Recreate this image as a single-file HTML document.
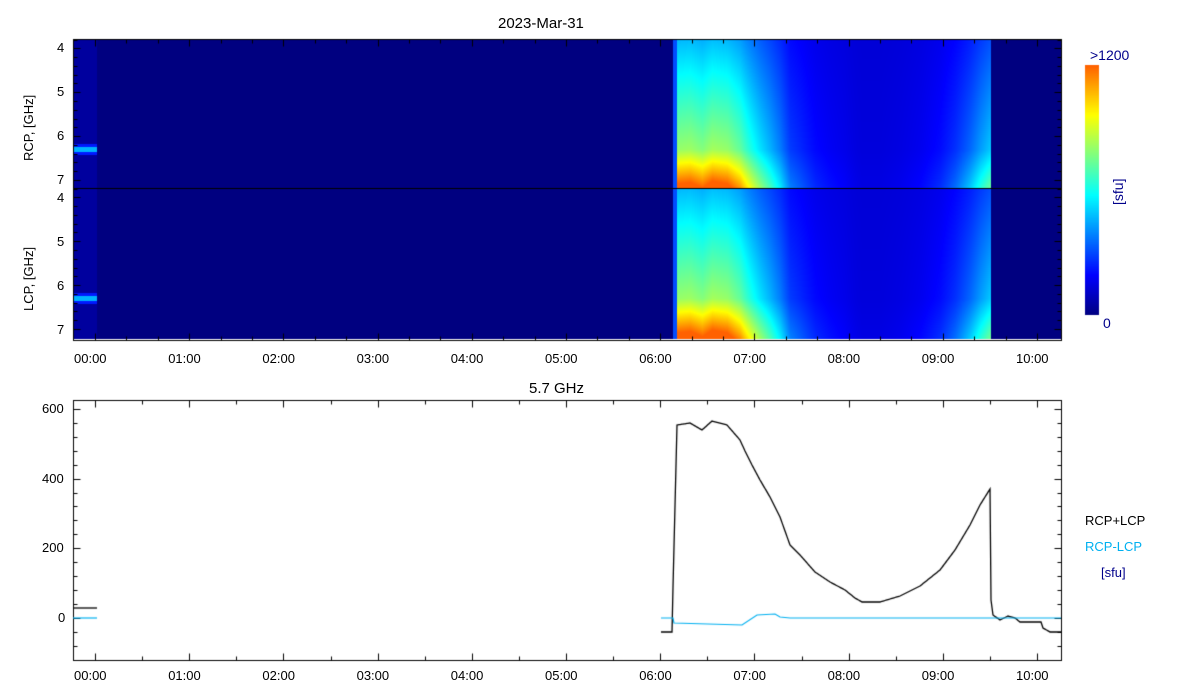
<!DOCTYPE html>
<html><head><meta charset="utf-8"><style>
body{margin:0;background:#fff;width:1200px;height:700px;overflow:hidden;position:relative;font-family:"Liberation Sans",sans-serif}
canvas{position:absolute;left:0;top:0}
.t{position:absolute;font-size:13px;color:#000;white-space:nowrap;line-height:1}
</style></head><body>
<canvas id="c" width="1200" height="700"></canvas>
<div class="t" style="left:498px;top:16px;font-size:15px">2023-Mar-31</div>
<div class="t" style="left:529px;top:381px;font-size:15px">5.7 GHz</div>
<div class="t" style="left:57px;top:41px">4</div>
<div class="t" style="left:57px;top:85px">5</div>
<div class="t" style="left:57px;top:129px">6</div>
<div class="t" style="left:57px;top:173px">7</div>
<div class="t" style="left:57px;top:191px">4</div>
<div class="t" style="left:57px;top:235px">5</div>
<div class="t" style="left:57px;top:279px">6</div>
<div class="t" style="left:57px;top:323px">7</div>
<div class="t" style="left:22px;top:161px;transform:rotate(-90deg);transform-origin:0 0">RCP, [GHz]</div>
<div class="t" style="left:22px;top:311px;transform:rotate(-90deg);transform-origin:0 0">LCP, [GHz]</div>
<div class="t" style="left:42px;top:402px">600</div>
<div class="t" style="left:42px;top:472px">400</div>
<div class="t" style="left:42px;top:541px">200</div>
<div class="t" style="left:58px;top:611px">0</div>
<div class="t" style="left:1090px;top:48px;color:#00008b;font-size:14px">&gt;1200</div>
<div class="t" style="left:1103px;top:316px;color:#00008b;font-size:14px">0</div>
<div class="t" style="left:1111px;top:205px;color:#00008b;transform:rotate(-90deg);transform-origin:0 0;font-size:14px">[sfu]</div>
<div class="t" style="left:1085px;top:514px">RCP+LCP</div>
<div class="t" style="left:1085px;top:540px;color:#00b0f0">RCP-LCP</div>
<div class="t" style="left:1101px;top:566px;color:#00008b">[sfu]</div>
<div id="xl"></div>
<script>
var hrs=["00:00","01:00","02:00","03:00","04:00","05:00","06:00","07:00","08:00","09:00","10:00"];
var h='';
for(var i=0;i<11;i++){var x=95+i*94.2;
h+='<div class="t" style="left:'+(x-21)+'px;top:352px">'+hrs[i]+'</div>';
h+='<div class="t" style="left:'+(x-21)+'px;top:669px">'+hrs[i]+'</div>';}
document.getElementById('xl').innerHTML=h;
var c=document.getElementById('c').getContext('2d');
function cl(v){return v<0?0:v>1?1:v}
function jet(t){return [cl(1.5-Math.abs(4*t-3)),cl(1.5-Math.abs(4*t-2)),cl(1.5-Math.abs(4*t-1))].map(function(v){return Math.round(v*255)})}
var B=[[661,632],[672,632],[673,587],[677,425],[690,423],[702,430],[712,421],[727,425],[740,440],[745,451],[752,465],[760,480],[770,497],[780,517],[790,545],[800,555],[815,572],[830,582],[845,590],[855,598],[862,602],[880,602],[900,596],[920,586],[940,570],[955,550],[970,525],[980,505],[990,489],[991,600],[993,615],[1000,620],[1008,616],[1015,618],[1020,622],[1041,622],[1043,628],[1050,632],[1061,632]];
function by(x){for(var i=0;i<B.length-1;i++){if(x>=B[i][0]&&x<=B[i+1][0]){var f=(x-B[i][0])/(B[i+1][0]-B[i][0]||1);return B[i][1]+f*(B[i+1][1]-B[i][1]);}}return 618}
function spec(y0,py7){
 var img=c.createImageData(988,150);
 for(var x=0;x<988;x++){var X=73+x;
  for(var y=0;y<150;y++){var f=4+((y0+y)-py7+131.7)/43.9;var t=0;
   if(X>=677&&X<=990){var cc=Math.max(0,(618-by(X))/197);cc=Math.pow(cc,1.5);
     var k=0.25+0.09*(f-4)+0.25*Math.max(0,f-6.3);
     t=0.08+cc*k;}
   else if(X>=673&&X<677)t=0.2;
   else if(X<97){t=0.03;if(Math.abs(f-6.3)<0.06)t=0.3;else if(Math.abs(f-6.3)<0.13)t=0.15}
   var col=jet(Math.min(t,0.78));var p=(y*988+x)*4;img.data[p]=col[0];img.data[p+1]=col[1];img.data[p+2]=col[2];img.data[p+3]=255;}}
 c.putImageData(img,73,y0);}
spec(39,180);spec(189,329);
c.fillStyle='#000';c.fillRect(73,188,988,1);
c.strokeStyle='#000';c.lineWidth=1;
function box(x0,y0,x1,y1){c.strokeRect(x0+.5,y0+.5,x1-x0,y1-y0)}
box(73,39,1061,340);box(73,400,1061,660);
c.beginPath();
function tk(x,y,dx,dy){c.moveTo(x+.5,y+.5);c.lineTo(x+dx+.5,y+dy+.5)}
for(var m=-20;m<=640;m+=20){var x=Math.round(95+m*94.2/60);if(x<73||x>1061)continue;var L=(m%60==0)?7:4;
 tk(x,340,0,-L);tk(x,39,0,L);}
for(var m=-30;m<=640;m+=30){var x=Math.round(95+m*94.2/60);if(x<73||x>1061)continue;var L=(m%60==0)?7:4;
 tk(x,660,0,-L);tk(x,400,0,L);}
[[180,39],[329,189]].forEach(function(p){for(var f=3.8;f<=7.2;f+=0.2){var y=Math.round(p[0]-(7-f)*43.9);if(y<p[1]||y>p[1]+150)continue;var L=(Math.abs(f-Math.round(f))<.01)?7:4;tk(73,y,L,0);tk(1061,y,-L,0);}});
for(var v=-120;v<=640;v+=40){var y=Math.round(618-v*69.7/200);if(y<400||y>660)continue;var L=(v%200==0)?7:4;tk(73,y,L,0);tk(1061,y,-L,0);}
c.stroke();
for(var y=65;y<315;y++){var col=jet((315-y)/250*0.78);c.fillStyle='rgb('+col+')';c.fillRect(1085,y,14,1);}
c.lineWidth=1.3;c.strokeStyle='#000';c.beginPath();c.moveTo(73,608);c.lineTo(97,608);c.stroke();
c.beginPath();c.moveTo(661,632);for(var x=661;x<=1061;x++){c.lineTo(x,by(x))}c.stroke();
c.strokeStyle='#00b0f0';c.lineWidth=1.2;c.beginPath();c.moveTo(73,618);c.lineTo(97,618);c.stroke();
var Bl=[[661,618],[673,618],[674,623],[742,625],[757,615],[775,614],[780,617],[790,618],[1061,618]];
c.beginPath();c.moveTo(661,618);Bl.forEach(function(p){c.lineTo(p[0],p[1])});c.stroke();
</script>
</body></html>
